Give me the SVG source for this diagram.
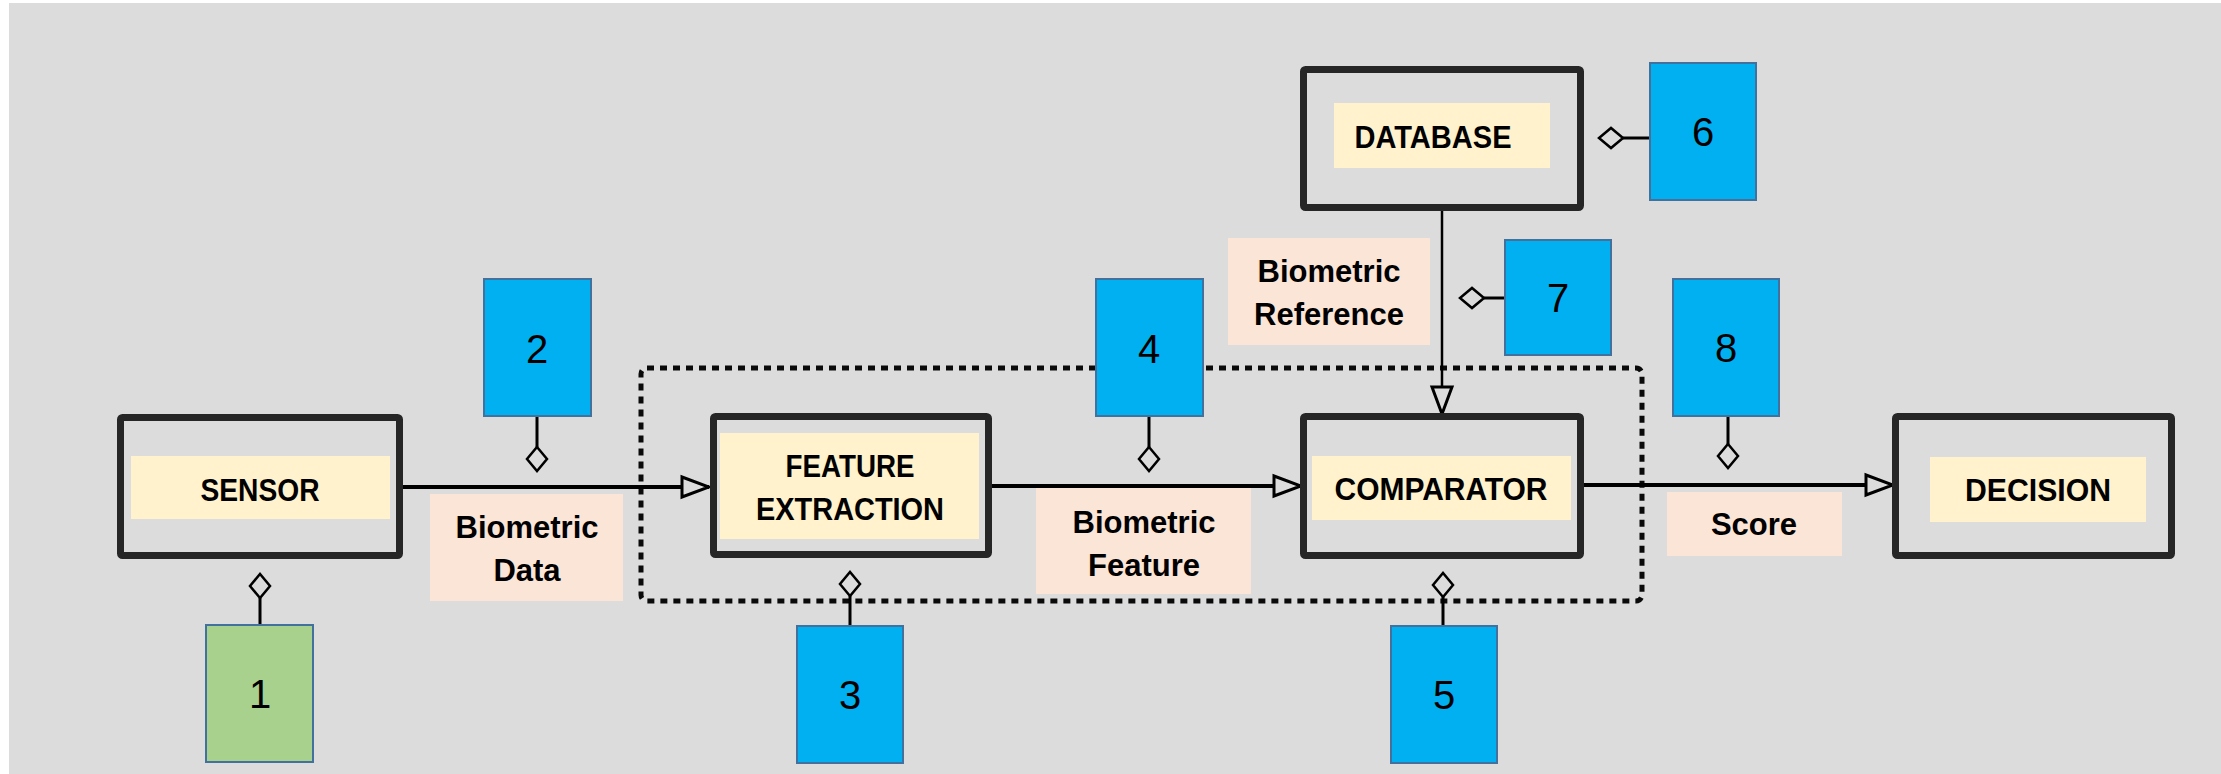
<svg xmlns="http://www.w3.org/2000/svg" width="2221" height="774" viewBox="0 0 2221 774">
  <style>
    .node { fill: none; stroke: #262626; stroke-width: 7; }
    .nlabel { fill: #fff2cc; }
    .elabel { fill: #fbe5d6; }
    .ntext { font-family: "Liberation Sans", Arial, sans-serif; font-weight: bold; font-size: 32px; fill: #000; text-anchor: middle; }
    .etext { font-family: "Liberation Sans", Arial, sans-serif; font-weight: bold; font-size: 31px; fill: #000; text-anchor: middle; }
    .callout { fill: #00b0f0; stroke: #41719c; stroke-width: 2; }
    .callout.green { fill: #a9d18e; }
    .num { font-family: "Liberation Sans", Arial, sans-serif; font-size: 40px; fill: #000; text-anchor: middle; }
    .flow { stroke: #000; stroke-width: 4; fill: none; marker-end: url(#tri); }
    .flow.thin { stroke-width: 2.5; }
    .link { stroke: #000; stroke-width: 3; fill: none; marker-end: url(#diamond); }
    .boundary { fill: none; stroke: #0a0a0a; stroke-width: 5; stroke-dasharray: 7 6; }
  </style>
  <defs>
    <marker id="tri" markerUnits="userSpaceOnUse" viewBox="-2 -2 32 26" markerWidth="32" markerHeight="26" refX="28" refY="11" orient="auto">
      <path d="M1,1 L28,11 L1,21 Z" fill="#dcdcdc" stroke="#000" stroke-width="3" stroke-linejoin="miter"/>
    </marker>
    <marker id="diamond" markerUnits="userSpaceOnUse" viewBox="-3 -3 30 26" markerWidth="30" markerHeight="26" refX="0" refY="10" orient="auto">
      <path d="M0,10 L12,0 L24,10 L12,20 Z" fill="#dcdcdc" stroke="#000" stroke-width="2.5"/>
    </marker>
  </defs>

  <rect x="0" y="0" width="2221" height="774" fill="#ffffff"/>
  <rect x="9" y="3" width="2212" height="771" fill="#dcdcdc"/>

  <rect id="boundary" class="boundary" x="641" y="368" width="1001" height="233" rx="6"/>

  <g id="connectors">
    <line class="flow" x1="403" y1="487" x2="709" y2="487"/>
    <line class="flow" x1="992" y1="486" x2="1301" y2="486"/>
    <line class="flow" x1="1584" y1="485" x2="1893" y2="485"/>
    <line class="flow thin" x1="1442" y1="211" x2="1442" y2="414"/>
    <line class="link" x1="260" y1="625" x2="260" y2="598"/>
    <line class="link" x1="537" y1="416" x2="537" y2="447"/>
    <line class="link" x1="850" y1="626" x2="850" y2="596"/>
    <line class="link" x1="1149" y1="416" x2="1149" y2="447"/>
    <line class="link" x1="1443" y1="626" x2="1443" y2="597"/>
    <line class="link" x1="1650" y1="138" x2="1623" y2="138"/>
    <line class="link" x1="1505" y1="298" x2="1484" y2="298"/>
    <line class="link" x1="1728" y1="416" x2="1728" y2="444"/>
  </g>

  <g id="sensor">
    <rect class="node" x="120.5" y="417.5" width="279" height="138" rx="2"/>
    <rect class="nlabel" x="131" y="456" width="259" height="63"/>
    <text class="ntext" x="260" y="501" textLength="119" lengthAdjust="spacingAndGlyphs">SENSOR</text>
  </g>
  <g id="feature-extraction">
    <rect class="node" x="713.5" y="416.5" width="275" height="138" rx="2"/>
    <rect class="nlabel" x="720" y="433" width="259" height="106"/>
    <text class="ntext" x="850" y="477" textLength="129" lengthAdjust="spacingAndGlyphs">FEATURE</text>
    <text class="ntext" x="850" y="520" textLength="188" lengthAdjust="spacingAndGlyphs">EXTRACTION</text>
  </g>
  <g id="comparator">
    <rect class="node" x="1303.5" y="416.5" width="277" height="139" rx="2"/>
    <rect class="nlabel" x="1312" y="456" width="259" height="64"/>
    <text class="ntext" x="1441" y="500" textLength="213" lengthAdjust="spacingAndGlyphs">COMPARATOR</text>
  </g>
  <g id="database">
    <rect class="node" x="1303.5" y="69.5" width="277" height="138" rx="2"/>
    <rect class="nlabel" x="1334" y="103" width="216" height="65"/>
    <text class="ntext" x="1433" y="148" textLength="157" lengthAdjust="spacingAndGlyphs">DATABASE</text>
  </g>
  <g id="decision">
    <rect class="node" x="1895.5" y="416.5" width="276" height="139" rx="2"/>
    <rect class="nlabel" x="1930" y="457" width="216" height="65"/>
    <text class="ntext" x="2038" y="501" textLength="146" lengthAdjust="spacingAndGlyphs">DECISION</text>
  </g>

  <g id="label-biometric-data">
    <rect class="elabel" x="430" y="494" width="193" height="107"/>
    <text class="etext" x="527" y="538">Biometric</text>
    <text class="etext" x="527" y="581">Data</text>
  </g>
  <g id="label-biometric-feature">
    <rect class="elabel" x="1036" y="488" width="215" height="106"/>
    <text class="etext" x="1144" y="533">Biometric</text>
    <text class="etext" x="1144" y="576">Feature</text>
  </g>
  <g id="label-biometric-reference">
    <rect class="elabel" x="1228" y="238" width="202" height="107"/>
    <text class="etext" x="1329" y="282">Biometric</text>
    <text class="etext" x="1329" y="325">Reference</text>
  </g>
  <g id="label-score">
    <rect class="elabel" x="1667" y="492" width="175" height="64"/>
    <text class="etext" x="1754" y="535">Score</text>
  </g>

  <g id="c1"><rect class="callout green" x="206" y="625" width="107" height="137"/><text class="num" x="260" y="708">1</text></g>
  <g id="c2"><rect class="callout" x="484" y="279" width="107" height="137"/><text class="num" x="537" y="363">2</text></g>
  <g id="c3"><rect class="callout" x="797" y="626" width="106" height="137"/><text class="num" x="850" y="709">3</text></g>
  <g id="c4"><rect class="callout" x="1096" y="279" width="107" height="137"/><text class="num" x="1149" y="363">4</text></g>
  <g id="c5"><rect class="callout" x="1391" y="626" width="106" height="137"/><text class="num" x="1444" y="709">5</text></g>
  <g id="c6"><rect class="callout" x="1650" y="63" width="106" height="137"/><text class="num" x="1703" y="146">6</text></g>
  <g id="c7"><rect class="callout" x="1505" y="240" width="106" height="115"/><text class="num" x="1558" y="312">7</text></g>
  <g id="c8"><rect class="callout" x="1673" y="279" width="106" height="137"/><text class="num" x="1726" y="362">8</text></g>
</svg>
